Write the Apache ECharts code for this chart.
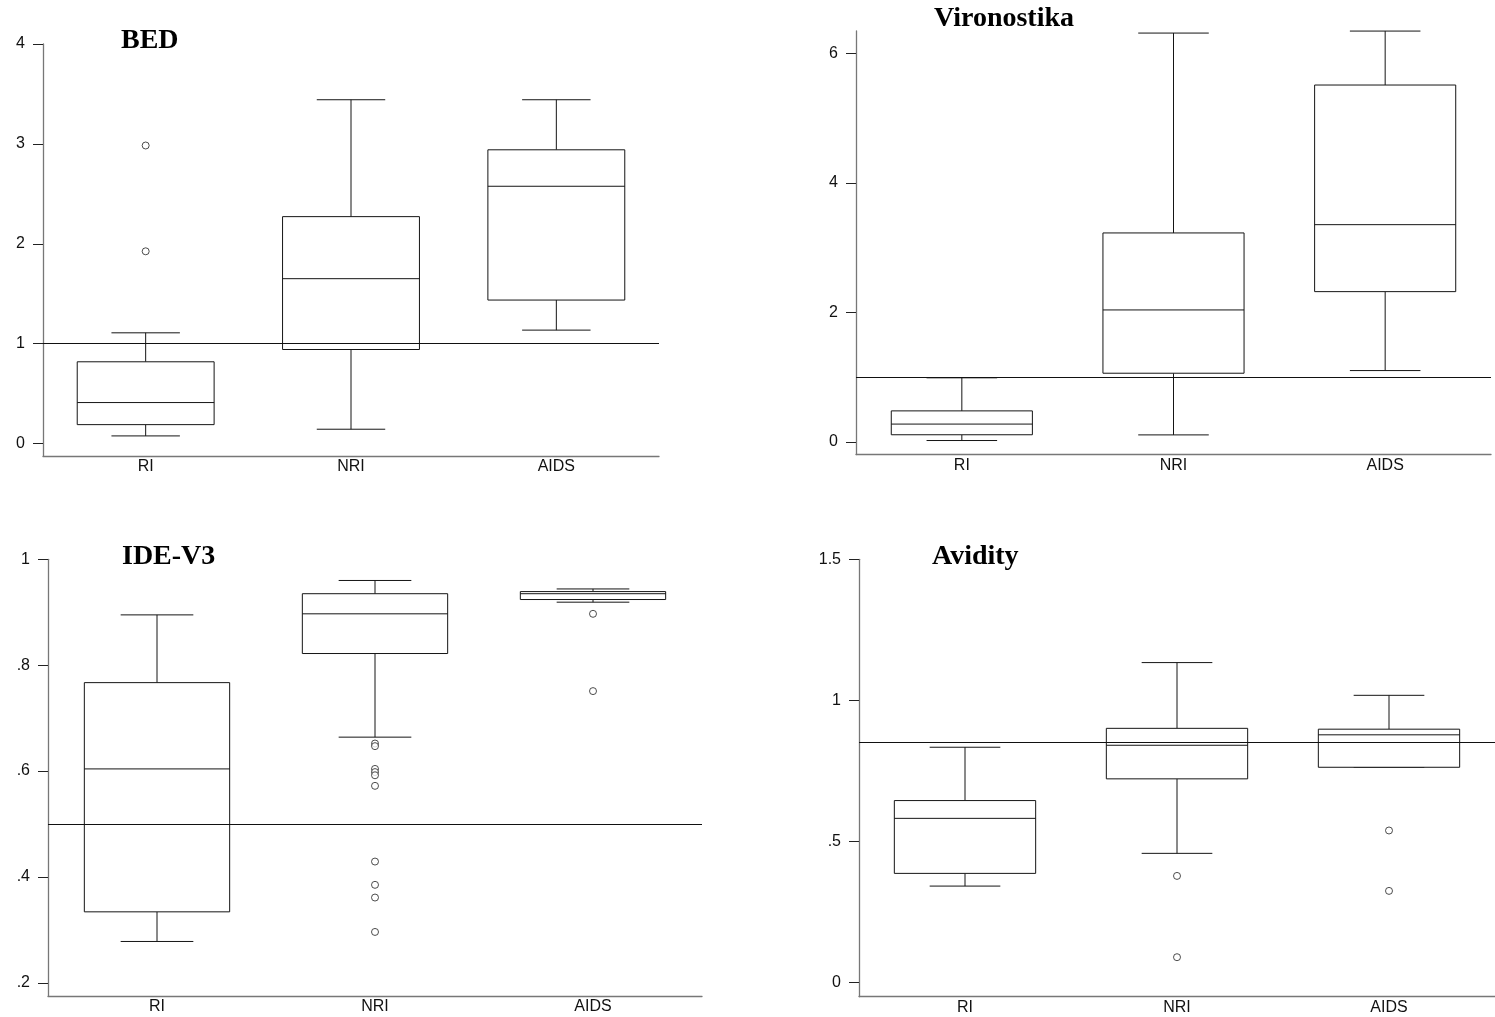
<!DOCTYPE html>
<html><head><meta charset="utf-8">
<script src="https://cdn.jsdelivr.net/npm/echarts@6/dist/echarts.min.js"></script>
<style>html,body{margin:0;padding:0;background:#fff}#c{width:1495px;height:1017px}</style>
</head><body><div id="c"></div>
<script>
// ---- data ----
const categories = ['RI', 'NRI', 'AIDS'];
const panelTitles = ['BED', 'Vironostika', 'IDE-V3', 'Avidity'];

// stats per category: [lower whisker, Q1, median, Q3, upper whisker]
const bedStats = [
  [0.077, 0.190, 0.411, 0.819, 1.109],
  [0.144, 0.942, 1.651, 2.272, 3.442],
  [1.136, 1.437, 2.576, 2.941, 3.442]
];
const bedOutliers = [['RI', 2.984], ['RI', 1.925]];
const bedCutoff = 1;
const bedTicks = [0, 1, 2, 3, 4];

const vironStats = [
  [0.021, 0.110, 0.275, 0.479, 0.99],
  [0.108, 1.061, 2.039, 3.229, 6.318],
  [1.102, 2.322, 3.357, 5.515, 6.349]
];
const vironOutliers = [];
const vironCutoff = 1;
const vironTicks = [0, 2, 4, 6];

const ideStats = [
  [0.278, 0.334, 0.604, 0.767, 0.895],
  [0.664, 0.822, 0.897, 0.935, 0.960],
  [0.919, 0.924, 0.935, 0.939, 0.944]
];
const ideOutliers = [
  ['NRI', 0.652], ['NRI', 0.647], ['NRI', 0.604], ['NRI', 0.598], ['NRI', 0.592],
  ['NRI', 0.572], ['NRI', 0.429], ['NRI', 0.385], ['NRI', 0.361], ['NRI', 0.296],
  ['AIDS', 0.897], ['AIDS', 0.751]
];
const ideCutoff = 0.5;
const ideTicks = [0.2, 0.4, 0.6, 0.8, 1];

const avidityStats = [
  [0.342, 0.387, 0.582, 0.645, 0.834],
  [0.458, 0.722, 0.841, 0.901, 1.134],
  [0.763, 0.763, 0.878, 0.898, 1.018]
];
const avidityOutliers = [['NRI', 0.378], ['NRI', 0.090], ['AIDS', 0.539], ['AIDS', 0.325]];
const avidityCutoff = 0.85;
const avidityTicks = [0, 0.5, 1, 1.5];

// ---- chart ----
const panels = [
  {stats: bedStats, out: bedOutliers, cut: bedCutoff, ticks: bedTicks, min: -0.124, max: 4,
   grid: {left: 43, top: 44, width: 616, height: 412}, title: {left: 121, top: 27}},
  {stats: vironStats, out: vironOutliers, cut: vironCutoff, ticks: vironTicks, min: -0.195, max: 6.35,
   grid: {left: 856, top: 31, width: 635, height: 423.5}, title: {left: 934, top: 5}},
  {stats: ideStats, out: ideOutliers, cut: ideCutoff, ticks: ideTicks, min: 0.175, max: 1,
   grid: {left: 48, top: 559.3, width: 654, height: 436.7}, title: {left: 122, top: 543}},
  {stats: avidityStats, out: avidityOutliers, cut: avidityCutoff, ticks: avidityTicks, min: -0.05, max: 1.5,
   grid: {left: 859, top: 559.3, width: 652.5, height: 437.4}, title: {left: 932, top: 543}}
];

function fmt(v) {
  if (v === 0) return '0';
  if (Number.isInteger(v)) return String(v);
  return String(v).replace(/^0(?=\.)/, '');
}

const LINE = '#151515';
function renderBox(params, api) {
  const xi = api.value(0);
  const lo = api.coord([xi, api.value(1)]);
  const q1 = api.coord([xi, api.value(2)]);
  const md = api.coord([xi, api.value(3)]);
  const q3 = api.coord([xi, api.value(4)]);
  const hi = api.coord([xi, api.value(5)]);
  const band = api.size([1, 0])[0];
  const bw = band * 2 / 3, cw = band / 3;
  const cx = lo[0];
  const st = {stroke: LINE, lineWidth: 1, fill: null};
  return {type: 'group', children: [
    {type: 'line', shape: {x1: cx, y1: hi[1], x2: cx, y2: q3[1]}, style: st},
    {type: 'line', shape: {x1: cx, y1: q1[1], x2: cx, y2: lo[1]}, style: st},
    {type: 'line', shape: {x1: cx - cw / 2, y1: hi[1], x2: cx + cw / 2, y2: hi[1]}, style: st},
    {type: 'line', shape: {x1: cx - cw / 2, y1: lo[1], x2: cx + cw / 2, y2: lo[1]}, style: st},
    {type: 'rect', shape: {x: cx - bw / 2, y: q3[1], width: bw, height: q1[1] - q3[1]},
     style: {stroke: LINE, lineWidth: 1, fill: '#fff'}},
    {type: 'line', shape: {x1: cx - bw / 2, y1: md[1], x2: cx + bw / 2, y2: md[1]}, style: st}
  ]};
}

const labelStyle = {fontFamily: 'Liberation Sans', fontSize: 16, color: '#111'};
const option = {
  animation: false,
  backgroundColor: '#fff',
  title: panels.map((p, i) => ({
    text: panelTitles[i], left: p.title.left, top: p.title.top, padding: 0,
    textStyle: {fontFamily: 'Liberation Serif', fontWeight: 'bold', fontSize: 28, color: '#000'}
  })),
  grid: panels.map(p => Object.assign({containLabel: false}, p.grid)),
  xAxis: panels.map((p, i) => ({
    type: 'category', gridIndex: i, data: categories, boundaryGap: true,
    axisLine: {onZero: false, lineStyle: {color: '#777', width: 1.3}},
    axisTick: {show: false},
    axisLabel: Object.assign({margin: 3}, labelStyle),
    splitLine: {show: false}
  })),
  yAxis: panels.map((p, i) => ({
    type: 'value', gridIndex: i, min: p.min, max: p.max,
    axisLine: {show: true, onZero: false, lineStyle: {color: '#777', width: 1.3}},
    axisTick: {show: true, length: 10, customValues: p.ticks, lineStyle: {color: '#222', width: 1}},
    axisLabel: Object.assign({margin: 18, customValues: p.ticks, formatter: fmt}, labelStyle),
    splitLine: {show: false}
  })),
  series: []
};

panels.forEach((p, i) => {
  option.series.push({
    type: 'custom', xAxisIndex: i, yAxisIndex: i,
    renderItem: renderBox,
    encode: {x: 0, y: [1, 2, 3, 4, 5]},
    data: p.stats.map((s, k) => [k].concat(s)),
    markLine: {
      silent: true, symbol: 'none', label: {show: false},
      lineStyle: {color: '#111', type: 'solid', width: 1},
      data: [{yAxis: p.cut}]
    },
    z: 2
  });
  option.series.push({
    type: 'scatter', xAxisIndex: i, yAxisIndex: i,
    symbol: 'circle', symbolSize: 7,
    itemStyle: {color: '#fff', borderColor: '#222', borderWidth: 1},
    data: p.out,
    z: 3
  });
});

const chart = echarts.init(document.getElementById('c'), null, {renderer: 'canvas'});
chart.setOption(option);
</script>
</body></html>
